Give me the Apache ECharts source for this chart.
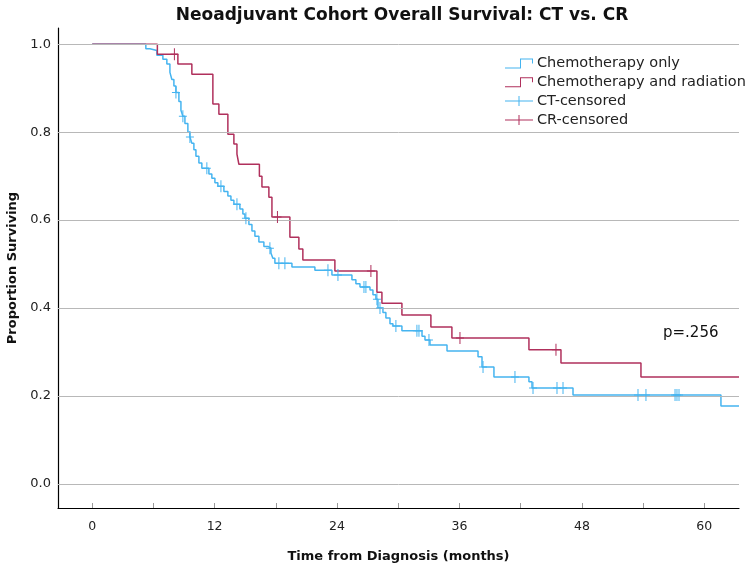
<!DOCTYPE html>
<html>
<head>
    <meta charset="utf-8" />
    <title>Neoadjuvant Cohort Overall Survival</title>
    <script src="https://cdn.jsdelivr.net/npm/echarts@6/dist/echarts.min.js"></script>
</head>
<body style="margin:0;">
    <div id="container" style="width:751px;height:569px;"></div>
    <script>
        // Kaplan-Meier steps (months, proportion surviving)
        var ctTime = [0, 5.26, 5.66, 6.34, 6.93, 7.32, 7.62, 7.81, 8.01, 8.21, 8.5, 8.7, 8.89, 9.09, 9.38, 9.58, 9.77, 9.97, 10.17, 10.46, 10.75,
            11.44, 11.73, 12.03, 12.32, 12.91, 13.3, 13.6, 13.89, 14.48, 14.77, 14.97, 15.36, 15.66, 15.95, 16.34, 16.83, 17.23, 17.52, 17.71, 17.91,
            19.58, 21.83, 23.5, 25.46, 25.85, 26.25, 27.23, 27.52, 27.81, 28.01, 28.5, 28.79, 29.19, 29.48, 30.36, 32.33, 32.62, 33.11, 34.78,
            37.82, 38.21, 39.38, 42.81, 43.11, 47.13, 61.63, 63.4];
        var ctSurv = [1, 0.99, 0.986, 0.975, 0.966, 0.955, 0.936, 0.92, 0.905, 0.89, 0.87, 0.85, 0.836, 0.82, 0.8, 0.789, 0.775, 0.76, 0.745, 0.73, 0.718,
            0.705, 0.695, 0.685, 0.677, 0.665, 0.655, 0.645, 0.636, 0.625, 0.614, 0.604, 0.59, 0.575, 0.563, 0.55, 0.54, 0.536, 0.525, 0.513, 0.502,
            0.493, 0.486, 0.475, 0.464, 0.455, 0.448, 0.441, 0.43, 0.42, 0.4, 0.39, 0.377, 0.364, 0.359, 0.348, 0.336, 0.327, 0.316, 0.302,
            0.289, 0.266, 0.243, 0.232, 0.218, 0.202, 0.177, 0.177];
        var crTime = [0, 6.39, 8.4, 9.77, 11.83, 12.42, 13.3, 13.89, 14.19, 14.38, 16.39, 16.64, 17.32, 17.62, 19.38, 20.26, 20.65, 23.79,
            27.91, 28.4, 30.36, 33.2, 35.26, 42.81, 45.95, 53.79, 63.4];
        var crSurv = [1, 0.977, 0.955, 0.932, 0.864, 0.841, 0.795, 0.773, 0.75, 0.727, 0.7, 0.675, 0.652, 0.607, 0.561, 0.534, 0.509, 0.484,
            0.436, 0.411, 0.384, 0.357, 0.332, 0.305, 0.275, 0.243, 0.243];

        var ctCensorTime = [8.21, 8.89, 9.58, 11.24, 12.62, 14.19, 15.07, 17.42, 18.3, 18.89, 23.11, 24.09, 26.64, 26.83, 27.91, 28.21, 29.77,
            31.83, 32.03, 33.01, 38.31, 41.44, 43.21, 45.56, 46.15, 53.5, 54.28, 57.13, 57.32, 57.52];
        var ctCensorSurv = [0.89, 0.836, 0.789, 0.718, 0.677, 0.636, 0.604, 0.536, 0.502, 0.502, 0.486, 0.475, 0.448, 0.448, 0.42, 0.4, 0.359,
            0.348, 0.348, 0.327, 0.266, 0.243, 0.218, 0.218, 0.218, 0.202, 0.202, 0.202, 0.202, 0.202];
        var crCensorTime = [8.06, 18.16, 27.32, 36.05, 45.46];
        var crCensorSurv = [0.977, 0.607, 0.484, 0.332, 0.305];

        var xTicks = [0, 6, 12, 18, 24, 30, 36, 42, 48, 54, 60];
        var xLabels = [0, 12, 24, 36, 48, 60];
        var yLabels = [0, 0.2, 0.4, 0.6, 0.8, 1.0];

        var ctColor = '#45b4f0';
        var crColor = '#b0305c';
        var stepIcon = 'path://M0,9H15V0H28V5H27V1H16V10H0Z';
        var plusIcon = 'path://M0,4.5H28V5.5H0ZM13.5,0H14.5V10H13.5Z';
        var plusSymbol = 'path://M0,5.5H8V6.5H0ZM3.5,0H4.5V12H3.5Z';

        function zip(a, b) {
            return a.map(function (v, i) { return [v, b[i]]; });
        }

        var dom = document.getElementById('container');
        var myChart = echarts.init(dom);
        var font = 'DejaVu Sans';

        var option = {
            backgroundColor: '#fff',
            animation: false,
            title: {
                text: 'Neoadjuvant Cohort Overall Survival: CT vs. CR',
                left: 397,
                textAlign: 'center',
                top: 2,
                textStyle: { fontFamily: font, fontSize: 17, fontWeight: 'bold', color: '#111' }
            },
            legend: {
                orient: 'vertical',
                left: 500,
                top: 51,
                itemWidth: 28,
                itemHeight: 10,
                itemGap: 3.8,
                textStyle: { fontFamily: font, fontSize: 14.5, color: '#222', padding: [0, 0, 0, -1] },
                data: [
                    { name: 'Chemotherapy only', icon: stepIcon },
                    { name: 'Chemotherapy and radiation', icon: stepIcon },
                    { name: 'CT-censored', icon: plusIcon },
                    { name: 'CR-censored', icon: plusIcon }
                ]
            },
            grid: { left: 58, right: 12, top: 28, bottom: 61, outerBoundsMode: 'none', containLabel: false },
            xAxis: {
                type: 'value',
                min: -3.35,
                max: 63.4,
                name: 'Time from Diagnosis (months)',
                nameLocation: 'middle',
                nameGap: 42,
                nameTextStyle: { fontFamily: font, fontSize: 13, fontWeight: 'bold', color: '#111' },
                axisLine: { onZero: false, lineStyle: { color: '#000', width: 1.2 } },
                axisTick: { show: true, customValues: xTicks, inside: true, length: 5, lineStyle: { color: '#999' } },
                axisLabel: { customValues: xLabels, fontFamily: font, fontSize: 12.5, color: '#222', margin: 12 },
                splitLine: { show: false }
            },
            yAxis: {
                type: 'value',
                min: -0.055,
                max: 1.037,
                name: 'Proportion Surviving',
                nameLocation: 'middle',
                nameGap: 39,
                nameTextStyle: { fontFamily: font, fontSize: 13, fontWeight: 'bold', color: '#111' },
                axisLine: { show: true, onZero: false, lineStyle: { color: '#000', width: 1.2 } },
                axisTick: { show: false },
                axisLabel: {
                    customValues: yLabels,
                    fontFamily: font, fontSize: 13, color: '#222', margin: 7,
                    formatter: function (v) { return v.toFixed(1); }
                },
                splitLine: { show: false }
            },
            graphic: [{
                type: 'text',
                left: 663,
                top: 326,
                style: { text: 'p=.256', font: '15px "DejaVu Sans"', fill: '#111' }
            }],
            series: [
                {
                    name: 'Chemotherapy only',
                    type: 'line',
                    step: 'end',
                    showSymbol: false,
                    data: zip(ctTime, ctSurv),
                    itemStyle: { color: ctColor },
                    lineStyle: { color: ctColor, width: 1.5 },
                    markLine: {
                        silent: true,
                        symbol: 'none',
                        label: { show: false },
                        lineStyle: { color: '#b8b8b8', width: 1, type: 'solid' },
                        data: yLabels.map(function (v) { return { yAxis: v }; })
                    },
                    z: 3
                },
                {
                    name: 'Chemotherapy and radiation',
                    type: 'line',
                    step: 'end',
                    showSymbol: false,
                    data: zip(crTime, crSurv),
                    itemStyle: { color: crColor },
                    lineStyle: { color: crColor, width: 1.5 },
                    z: 4
                },
                {
                    name: 'CT-censored',
                    type: 'scatter',
                    symbol: plusSymbol,
                    symbolSize: [8, 12],
                    data: zip(ctCensorTime, ctCensorSurv),
                    itemStyle: { color: ctColor, opacity: 1 },
                    z: 5
                },
                {
                    name: 'CR-censored',
                    type: 'scatter',
                    symbol: plusSymbol,
                    symbolSize: [8, 12],
                    data: zip(crCensorTime, crCensorSurv),
                    itemStyle: { color: crColor, opacity: 1 },
                    z: 5
                }
            ]
        };
        myChart.setOption(option);
    </script>
</body>
</html>
